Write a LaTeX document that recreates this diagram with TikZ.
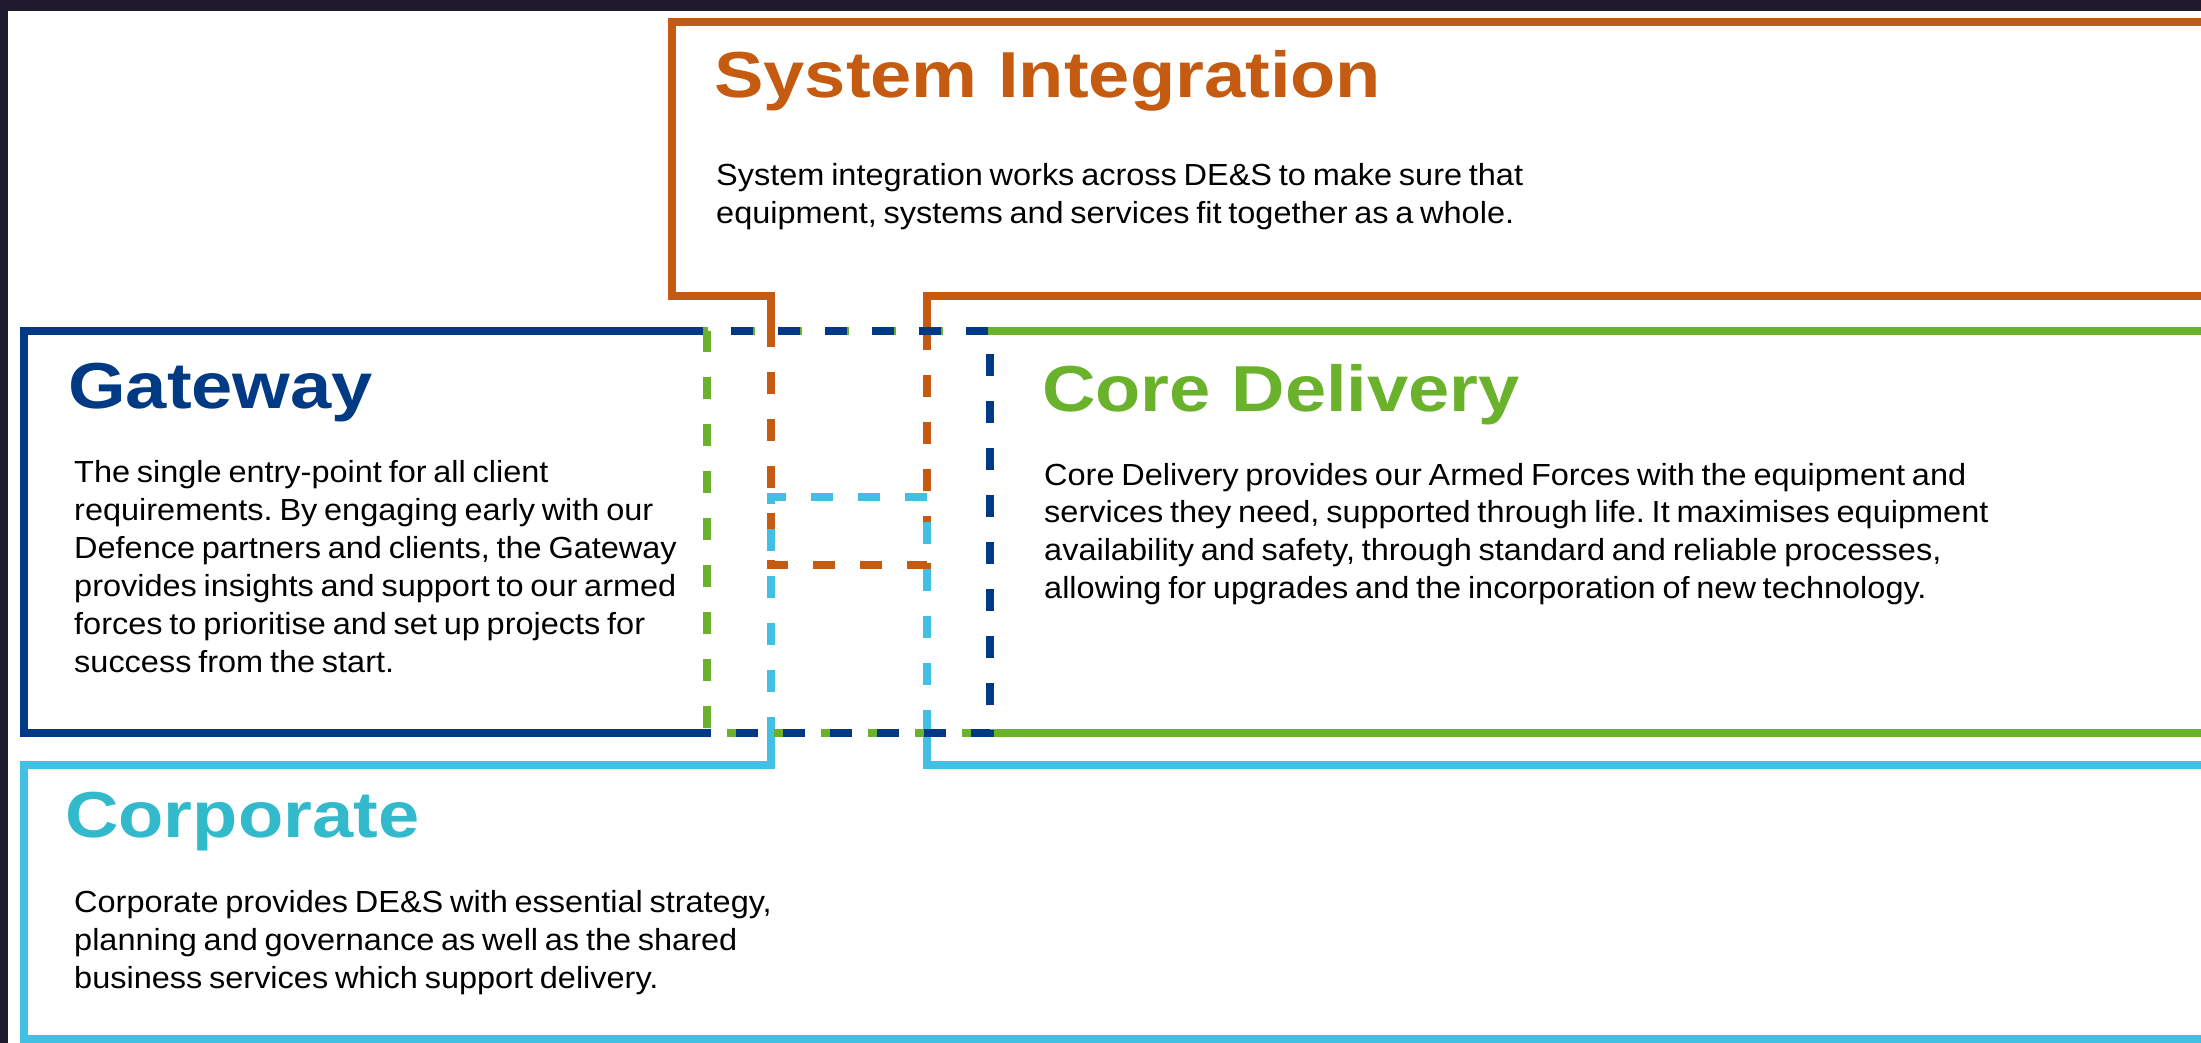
\documentclass[tikz,border=0pt]{standalone}
\usepackage{fontspec}
\newfontfamily\bodyfont[FakeStretch=1.065,WordSpace=0.75]{Liberation Sans}
\newfontfamily\headfont[FakeStretch=1.14]{Liberation Sans}
\frenchspacing
\definecolor{bgdark}{RGB}{31,26,46}
\definecolor{siorange}{RGB}{197,90,17}
\definecolor{gwnavy}{RGB}{0,58,132}
\definecolor{cdgreen}{RGB}{107,178,44}
\definecolor{cpcyan}{RGB}{66,192,228}
\definecolor{cpteal}{RGB}{50,186,204}
\begin{document}
\begin{tikzpicture}[x=1pt,y=-1pt,
  lw/.style={line width=8pt},
  dashline/.style={lw, dash pattern=on 22pt off 25pt},
  headtxt/.style={anchor=base west, inner sep=0pt, font=\headfont\bfseries\fontsize{65}{78}\selectfont},
  bodytxt/.style={anchor=base west, inner sep=0pt, text=black}]
\useasboundingbox (0,0) rectangle (2201,1043);
\fill[bgdark] (0,0) rectangle (2201,1043);
\fill[white] (8,11) rectangle (2201,1043);

% solid outlines
\draw[lw, siorange] (2201,22) -- (672,22) -- (672,296) -- (771,296) -- (771,335);
\draw[lw, siorange] (927,335) -- (927,296) -- (2201,296);
\draw[lw, gwnavy] (707,331) -- (24,331) -- (24,733) -- (707,733);
\draw[lw, cdgreen] (990,331) -- (2201,331);
\draw[lw, cdgreen] (990,733) -- (2201,733);
\draw[lw, cpcyan] (771,729) -- (771,765) -- (24,765) -- (24,1039) -- (2201,1039);
\draw[lw, cpcyan] (927,729) -- (927,765) -- (2201,765);

% dashed overlaps
\draw[dashline, cdgreen, dash phase=0pt] (990,331) -- (707,331) -- (707,733) -- (990,733);
\draw[dashline, gwnavy, dash phase=23pt] (707,331) -- (990,331) -- (990,733) -- (707,733);
\draw[dashline, siorange, dash phase=10pt] (771,335) -- (771,565) -- (927,565) -- (927,335);
\draw[dashline, cpcyan, dash phase=10pt] (771,729) -- (771,497) -- (927,497) -- (927,729);

% texts
\node[headtxt, text=siorange] (sihead) at (714,98) {System Integration};
\node[bodytxt] (sibody) at (716,186) {\parbox[t]{1200pt}{\bodyfont\fontsize{30.5}{38}\selectfont
System integration works across DE\&S to make sure that\\
equipment, systems and services fit together as a whole.}};

\node[headtxt, text=gwnavy] (gwhead) at (68,408) {Gateway};
\node[bodytxt] (gwbody) at (74,482) {\parbox[t]{1200pt}{\bodyfont\fontsize{30.5}{38}\selectfont
The single entry-point for all client\\
requirements. By engaging early with our\\
Defence partners and clients, the Gateway\\
provides insights and support to our armed\\
forces to prioritise and set up projects for\\
success from the start.}};

\node[headtxt, text=cdgreen] (cdhead) at (1042,411) {Core Delivery};
\node[bodytxt] (cdbody) at (1044,485) {\parbox[t]{1200pt}{\bodyfont\fontsize{30.5}{37.8}\selectfont
Core Delivery provides our Armed Forces with the equipment and\\
services they need, supported through life. It maximises equipment\\
availability and safety, through standard and reliable processes,\\
allowing for upgrades and the incorporation of new technology.}};

\node[headtxt, text=cpteal] (cphead) at (65,837) {Corporate};
\node[bodytxt] (cpbody) at (74,912) {\parbox[t]{1200pt}{\bodyfont\fontsize{30.5}{38}\selectfont
Corporate provides DE\&S with essential strategy,\\
planning and governance as well as the shared\\
business services which support delivery.}};
\end{tikzpicture}
\end{document}
